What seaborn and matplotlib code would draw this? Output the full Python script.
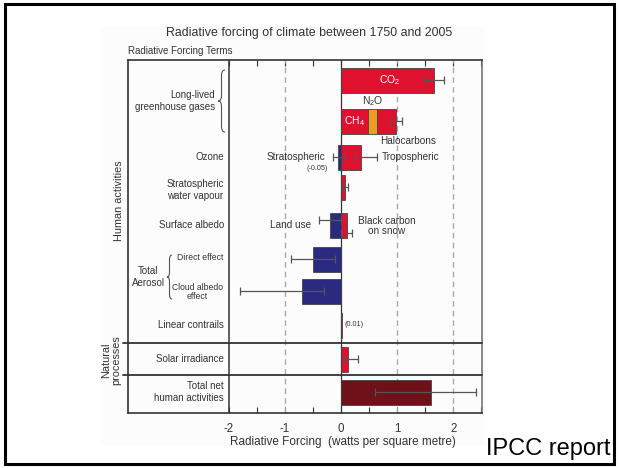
import matplotlib
matplotlib.use("Agg")
import matplotlib.pyplot as plt
from matplotlib.patches import Rectangle, PathPatch
from matplotlib.path import Path
import numpy as np
import seaborn as sns

# Radiative forcing terms, 1750-2005 (W m^-2): best estimate and uncertainty range
co2, co2_range = 1.66, (1.49, 1.83)
ch4, n2o, halocarbons = 0.48, 0.16, 0.34
long_lived_range = (0.88, 1.08)
ozone_strat, ozone_strat_range = -0.05, (-0.15, 0.05)
ozone_trop, ozone_trop_range = 0.35, (0.25, 0.65)
strat_h2o, strat_h2o_range = 0.07, (0.02, 0.12)
land_use, land_use_range = -0.2, (-0.4, 0.0)
bc_snow, bc_snow_range = 0.1, (0.0, 0.2)
aerosol_direct, aerosol_direct_range = -0.5, (-0.9, -0.1)
cloud_albedo, cloud_albedo_range = -0.7, (-1.8, -0.3)
contrails = 0.01
solar, solar_range = 0.12, (0.06, 0.30)
total_net, total_net_range = 1.6, (0.6, 2.4)

tick_values = [-2, -1, 0, 1, 2]
tick_labels = ["-2", "-1", "0", "1", "2"]

# colours
RED = "#e0112f"
BLUE = "#2a2a80"
ORANGE = "#f29a26"
DARKRED = "#6e1119"
EDGE = "#444444"
INK = "#333333"
ERR = "#555555"

# figure layout in pixels
W, H = 619, 468
X0_PX, X_PER_UNIT = 341.0, 56.1          # pixel of 0 W m^-2 and pixels per unit
BOX_L, BOX_R, BOX_T, BOX_B = 128, 482, 60, 413
BAR_H = 25

# vertical row centres (pixels below the box top)
row_pos = {
    "co2": 20, "long": 61, "ozone": 97, "h2o": 127, "albedo": 165,
    "direct": 199, "cloud": 231, "contrails": 265, "solar": 299, "total": 332,
}
separators = [283, 315]

sns.set_theme(style="white")
plt.rcParams["font.family"] = ["Liberation Sans", "DejaVu Sans"]
plt.rcParams["mathtext.default"] = "regular"

fig = plt.figure(figsize=(W / 100, H / 100), dpi=100)
fig.patch.set_facecolor("white")


def fx(px):
    return px / W


def fy(py):
    return 1 - py / H


def px2data(px):
    return (px - X0_PX) / X_PER_UNIT


# faint panel behind the figure
fig.patches.append(Rectangle((fx(100), fy(446)), fx(485) - fx(100), fy(27) - fy(446),
                             transform=fig.transFigure, facecolor="#fcfcfc",
                             edgecolor="none", zorder=-5))
# outer frame
fig.patches.append(Rectangle((fx(5), fy(464)), fx(614) - fx(5), fy(4) - fy(464),
                             transform=fig.transFigure, facecolor="none",
                             edgecolor="black", linewidth=2.2, zorder=10))

ax = fig.add_axes([fx(BOX_L), fy(BOX_B), fx(BOX_R) - fx(BOX_L), fy(BOX_T) - fy(BOX_B)])
ax.set_facecolor("none")
ax.set_zorder(1)

# bar segments: (row, left edge, value, colour)
segments = [
    ("co2", 0, co2, RED),
    ("long", 0, ch4, RED),
    ("long", ch4, n2o, ORANGE),
    ("long", ch4 + n2o, halocarbons, RED),
    ("ozone", 0, ozone_strat, BLUE),
    ("ozone", 0, ozone_trop, RED),
    ("h2o", 0, strat_h2o, RED),
    ("albedo", 0, land_use, BLUE),
    ("albedo", 0, bc_snow, RED),
    ("direct", 0, aerosol_direct, BLUE),
    ("cloud", 0, cloud_albedo, BLUE),
    ("contrails", 0, contrails, RED),
    ("solar", 0, solar, RED),
    ("total", 0, total_net, DARKRED),
]
for row, left, val, col in segments:
    sns.barplot(x=[val], y=[row_pos[row]], orient="y", native_scale=True,
                width=BAR_H, left=left, color=col, saturation=1,
                edgecolor=EDGE, linewidth=0.6, errorbar=None, ax=ax, zorder=3)

# uncertainty ranges: (row, range, vertical offset in px)
ranges = [
    ("co2", co2_range, 0),
    ("long", long_lived_range, 0),
    ("ozone", ozone_strat_range, 0),
    ("ozone", ozone_trop_range, 0),
    ("h2o", strat_h2o_range, 0),
    ("albedo", land_use_range, -5),
    ("albedo", bc_snow_range, 8),
    ("direct", aerosol_direct_range, 0),
    ("cloud", cloud_albedo_range, 0),
    ("solar", solar_range, 0),
    ("total", total_net_range, 0),
]
for row, (lo, hi), dy in ranges:
    mid = (lo + hi) / 2
    ax.errorbar(x=[mid], y=[row_pos[row] + dy], xerr=[[mid - lo], [hi - mid]],
                fmt="none", ecolor=ERR, elinewidth=0.9, capsize=3, capthick=0.9,
                zorder=4)

# reference lines
ax.axvline(-2, color=INK, lw=1.1, zorder=2)
ax.axvline(0, color=INK, lw=0.9, zorder=2)
for v in (-1, 1, 2):
    ax.axvline(v, color="#aaaaaa", lw=1.0, dashes=(4, 3), zorder=1)
for s in separators:
    ax.plot([px2data(123), px2data(BOX_R)], [s, s], color=INK, lw=1.3,
            clip_on=False, zorder=5)

ax.set_xlim(px2data(BOX_L), px2data(BOX_R))
ax.set_ylim(BOX_B - BOX_T, 0)
ax.set_yticks([])
ax.set_xticks(tick_values)
ax.set_xticklabels(tick_labels)
ax.set_xticks(np.arange(-1.5, 2.6, 1.0), minor=True)
ax.tick_params(axis="x", which="both", direction="in", top=True, bottom=True,
               length=4, width=0.8, color=INK, labelsize=8.3, labelcolor=INK, pad=7)
ax.set_xlabel("")
ax.set_ylabel("")
for side, sp in ax.spines.items():
    sp.set_visible(True)
    sp.set_color(INK if side != "right" else "#777777")
    sp.set_linewidth(1.2)

# text helpers in pixel coordinates


def ftext(px, py, s, **kw):
    kw.setdefault("color", INK)
    kw.setdefault("va", "center")
    fig.text(fx(px), fy(py), s, **kw)


def brace(x_right, y_top, y_bot, depth):
    xm = x_right - depth / 2
    xl = x_right - depth
    ym = (y_top + y_bot) / 2
    d = depth / 2 + 2
    verts = [(x_right, y_top), (xm, y_top), (xm, y_top + d),
             (xm, ym - d), (xm, ym), (xl, ym),
             (xm, ym), (xm, ym + d),
             (xm, y_bot - d), (xm, y_bot), (x_right, y_bot)]
    codes = [Path.MOVETO, Path.CURVE3, Path.CURVE3,
             Path.LINETO, Path.CURVE3, Path.CURVE3,
             Path.CURVE3, Path.CURVE3,
             Path.LINETO, Path.CURVE3, Path.CURVE3]
    verts = [(fx(a), fy(b)) for a, b in verts]
    fig.patches.append(PathPatch(Path(verts, codes), transform=fig.transFigure,
                                 facecolor="none", edgecolor="#555555", lw=0.8,
                                 zorder=3))


ftext(309, 33, "Radiative forcing of climate between 1750 and 2005", ha="center",
      fontsize=8.9)
ftext(128, 51, "Radiative Forcing Terms", ha="left", fontsize=7.0)
ftext(343, 442, "Radiative Forcing  (watts per square metre)", ha="center",
      fontsize=8.45)
ftext(486, 449, "IPCC report", ha="left", fontsize=17, color="black")

LBL = 7
ftext(215, 101, "Long-lived\ngreenhouse gases", ha="right", fontsize=LBL,
      multialignment="right", linespacing=1.15)
brace(225, 70, 132, 7)
ftext(224, 157, "Ozone", ha="right", fontsize=LBL)
ftext(224, 190, "Stratospheric\nwater vapour", ha="right", fontsize=LBL,
      multialignment="center", linespacing=1.15)
ftext(224, 225, "Surface albedo", ha="right", fontsize=LBL)
ftext(223, 258, "Direct effect", ha="right", fontsize=6.2)
ftext(223, 292, "Cloud albedo\neffect", ha="right", fontsize=6.2,
      multialignment="center", linespacing=1.1)
ftext(148, 277, "Total\nAerosol", ha="center", fontsize=LBL,
      multialignment="center", linespacing=1.15)
brace(172, 255, 299, 5)
ftext(224, 325, "Linear contrails", ha="right", fontsize=LBL)
ftext(224, 359, "Solar irradiance", ha="right", fontsize=LBL)
ftext(224, 392, "Total net\nhuman activities", ha="right", fontsize=LBL,
      multialignment="right", linespacing=1.15)
ftext(119, 201, "Human activities", ha="center", rotation=90, fontsize=7.8)
ftext(111, 360, "Natural\nprocesses", ha="center", rotation=90, fontsize=7.8,
      multialignment="center", linespacing=1.05)

# annotations on the bars
ax.text(co2 / 2 + 0.04, row_pos["co2"], "CO$_2$", color="white", fontsize=7.5,
        ha="center", va="center", zorder=6)
ax.text(ch4 / 2, row_pos["long"], "CH$_4$", color="white", fontsize=7.5,
        ha="center", va="center", zorder=6)
ax.text(ch4 + n2o / 2, row_pos["long"] - 20, "N$_2$O", color=INK, fontsize=7.5,
        ha="center", va="center", zorder=6)
ax.text(1.2, row_pos["long"] + 20, "Halocarbons", color=INK, fontsize=7.2,
        ha="center", va="center", zorder=6)
ax.text(-0.28, row_pos["ozone"], "Stratospheric", color=INK, fontsize=7.2,
        ha="right", va="center", zorder=6)
ax.text(-0.42, row_pos["ozone"] + 12, "(-0.05)", color=INK, fontsize=5.2,
        ha="center", va="center", zorder=6)
ax.text(0.73, row_pos["ozone"], "Tropospheric", color=INK, fontsize=7.2,
        ha="left", va="center", zorder=6)
ax.text(-0.9, row_pos["albedo"], "Land use", color=INK, fontsize=7.2,
        ha="center", va="center", zorder=6)
ax.text(0.82, row_pos["albedo"] + 1, "Black carbon\non snow", color=INK, fontsize=7.2,
        ha="center", va="center", linespacing=1.0, zorder=6)
ax.text(0.06, row_pos["contrails"], "(0.01)", color=INK, fontsize=5.2,
        ha="left", va="center", zorder=6)

fig.savefig("out.png", dpi=100)
